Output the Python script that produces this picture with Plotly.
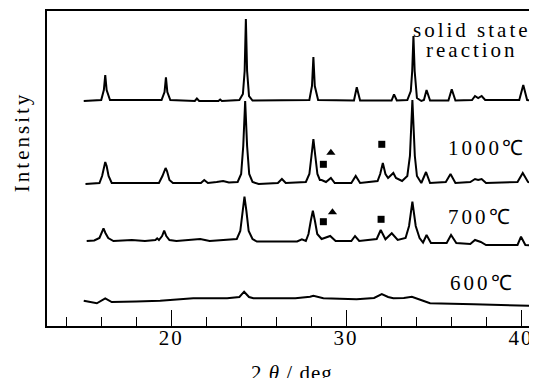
import plotly.graph_objects as go

# ---- data (2θ in deg, intensity in arbitrary units) ----
ssr_2theta = [15.0, 16.0, 16.15, 16.23, 16.31, 16.5, 19.45, 19.62, 19.70, 19.78, 19.95,
              21.35, 21.47, 21.6, 22.7, 22.8, 22.9, 23.9, 24.1, 24.2, 24.27, 24.34, 24.45, 24.65,
              27.9, 28.05, 28.13, 28.21, 28.4, 30.45, 30.61, 30.8, 32.6, 32.74, 32.9,
              33.5, 33.7, 33.78, 33.85, 33.92, 34.05, 34.3, 34.45, 34.6, 34.8,
              35.85, 36.04, 36.25, 37.2, 37.37, 37.55, 37.75, 37.95, 39.9, 40.13, 40.35, 40.8]
ssr_int = [225, 226, 236, 251, 236, 226, 226, 234, 248.7, 234, 226,
           225, 227.5, 225, 225, 226.5, 225, 226, 232, 255, 307, 255, 230, 225.5,
           226, 240, 269, 240, 226, 225.5, 238.7, 225.5, 225.5, 231.7, 225.5,
           226, 235, 255, 290, 255, 228, 225, 226, 236, 225.5,
           225.5, 236.7, 225.5, 226, 230, 228, 230, 226, 226, 241, 226, 225]

t1000_2theta = [15.1, 15.9, 16.05, 16.15, 16.23, 16.31, 16.42, 16.6, 19.3, 19.5, 19.62, 19.68,
                19.76, 19.9, 20.1, 21.7, 21.89, 22.1, 22.6, 22.97, 23.3, 23.8, 24.0, 24.12,
                24.23, 24.34, 24.46, 24.65, 25.0, 26.1, 26.33, 26.55, 27.7, 27.9, 28.02, 28.13,
                28.24, 28.36, 28.5, 28.6, 28.85, 29.13, 29.35, 30.3, 30.55, 30.8, 31.8, 31.95,
                32.1, 32.25, 32.4, 32.55, 32.7, 32.85, 33.2, 33.5, 33.65, 33.79, 33.93, 34.05,
                34.3, 34.57, 34.8, 35.7, 35.97, 36.25, 37.1, 37.37, 37.55, 37.75, 38.0, 39.8,
                40.1, 40.4, 40.8]
t1000_int = [142, 143, 150, 160, 164, 160, 150, 143, 143, 150, 157, 158,
             155, 146, 143, 143, 146, 143, 144, 145, 143.5, 144, 152, 180,
             225, 180, 152, 144, 142, 143, 147, 143, 144, 152, 170, 187,
             170, 152, 146, 146, 144, 148, 143, 143, 150, 143, 145, 152,
             163, 152, 148, 151, 153, 148, 145, 150, 170, 226, 170, 150,
             143, 154, 143, 144, 152, 143, 144, 147, 146, 147, 143, 144,
             153, 144, 142]

t700_2theta = [15.17, 15.6, 15.9, 16.02, 16.13, 16.24, 16.4, 16.7, 17.75, 18.5, 19.1, 19.2,
               19.3, 19.48, 19.6, 19.72, 19.9, 20.3, 21.66, 22.2, 23.75, 23.95, 24.08, 24.19,
               24.3, 24.43, 24.65, 24.9, 27.2, 27.47, 27.7, 27.85, 27.98, 28.1, 28.22, 28.35,
               28.6, 29.09, 29.4, 30.3, 30.51, 30.75, 31.75, 31.98, 32.25, 32.61, 32.95, 33.4,
               33.6, 33.79, 33.98, 34.2, 34.4, 34.6, 34.85, 35.75, 36.0, 36.3, 37.1, 37.37,
               37.7, 38.0, 39.8, 40.0, 40.25, 40.9]
t700_int = [85, 85.5, 88, 93, 97.7, 93, 88, 85, 86, 85, 86, 87.7,
            86, 90, 95.3, 90, 86, 85, 87, 85, 87, 95, 115, 129.3,
            115, 95, 87, 84.5, 84.5, 86.7, 85, 92, 105, 115.3, 105, 92,
            87, 90, 85, 85, 90, 85, 87, 96, 86.7, 92.7, 86, 88,
            100, 124.3, 100, 88, 83.5, 91, 83, 83, 91, 83, 82, 86,
            84, 81, 81, 89.3, 81, 80]

t600_2theta = [15.0, 15.75, 16.23, 16.6, 18.0, 19.37, 21.26, 23.2, 23.9, 24.17, 24.45, 24.7,
               26.0, 27.1, 27.94, 28.13, 28.7, 30.6, 31.6, 32.04, 32.4, 32.7, 33.3, 33.76,
               34.4, 34.8, 37.3, 40.1, 40.9]
t600_int = [25.3, 22.7, 27.7, 24, 24.5, 25.3, 27.7, 27.7, 29, 34.3, 29, 27.7,
            27.7, 27.7, 29.3, 30.3, 27.7, 26.7, 28, 32, 29, 27.7, 28, 29.3,
            25.3, 22.7, 21.7, 20, 20]

# impurity marks (■ and ▲) above the 1000 ℃ and 700 ℃ patterns
square_2theta = [28.7, 32.04, 28.7, 32.0]
square_int = [161.7, 181.7, 104.3, 106.7]
triangle_2theta = [29.13, 29.22]
triangle_int = [173.3, 113.7]

# curve labels
label_texts = ["solid state", "reaction", "1000℃", "700℃", "600℃"]
label_2theta = [37.17, 37.17, 38.06, 37.66, 37.8]
label_int = [296, 276, 177.7, 108.7, 42.7]

x_ticks = [20, 30, 40]

FONT = "Liberation Serif"
LW = 2


def spaced(t, px):
    return f'<span style="letter-spacing:{px}px">{t}</span>'


fig = go.Figure()
for xs, ys in [(ssr_2theta, ssr_int), (t1000_2theta, t1000_int),
               (t700_2theta, t700_int), (t600_2theta, t600_int)]:
    fig.add_trace(go.Scatter(x=xs, y=ys, mode="lines",
                             line=dict(color="black", width=LW),
                             hoverinfo="skip", showlegend=False))

fig.add_trace(go.Scatter(x=square_2theta, y=square_int, mode="markers",
                         marker=dict(symbol="square", size=7, color="black"),
                         showlegend=False, hoverinfo="skip"))
fig.add_trace(go.Scatter(x=triangle_2theta, y=triangle_int, mode="markers",
                         marker=dict(symbol="triangle-up", size=8, color="black"),
                         showlegend=False, hoverinfo="skip"))

for t, x, y in zip(label_texts, label_2theta, label_int):
    fig.add_annotation(x=x, y=y, xref="x", yref="y", showarrow=False,
                       text=spaced(t, 3),
                       font=dict(family=FONT, size=21, color="black"),
                       xanchor="center", yanchor="middle")

# axis titles
fig.add_annotation(x=-0.051, y=0.584, xref="paper", yref="paper", showarrow=False,
                   text=spaced("Intensity", 3), textangle=-90,
                   font=dict(family=FONT, size=21, color="black"),
                   xanchor="center", yanchor="middle")
fig.add_annotation(x=0.502, y=-0.149, xref="paper", yref="paper", showarrow=False,
                   text=spaced("2 <i>θ</i> / deg", 1),
                   font=dict(family=FONT, size=21, color="black"),
                   xanchor="center", yanchor="middle")

# the page body adds an 8 px margin, so the figure is 8 px smaller and shifted
fig.update_layout(
    width=529, height=370,
    margin=dict(l=39, r=2, t=3, b=52, autoexpand=False),
    paper_bgcolor="white", plot_bgcolor="white",
    font=dict(family=FONT, color="black"),
    xaxis=dict(range=[12.9, 40.8], showgrid=False, zeroline=False, automargin=False,
               showline=True, linecolor="black", linewidth=1.5, mirror=True,
               ticks="inside", ticklen=16, tickwidth=1.3, tickcolor="black",
               tickvals=x_ticks, ticklabelstandoff=-8,
               ticktext=[spaced(v, 2) for v in x_ticks],
               tickfont=dict(family=FONT, size=21, color="black"),
               minor=dict(dtick=2, tick0=0, ticks="inside", ticklen=9,
                          tickwidth=1.3, tickcolor="black", showgrid=False)),
    yaxis=dict(range=[0, 315], showgrid=False, zeroline=False, automargin=False,
               showline=True, linecolor="black", linewidth=1.5, mirror=True,
               ticks="", showticklabels=False),
)

fig.write_html("out.html")
